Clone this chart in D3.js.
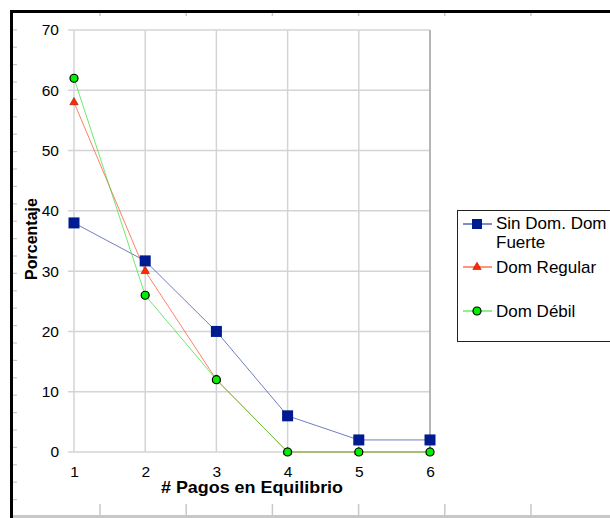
<!DOCTYPE html>
<html>
<head>
<meta charset="utf-8">
<script src="https://cdn.jsdelivr.net/npm/d3@7"></script>
<style>
  body { margin: 0; background: #fff; }
  svg { display: block; font-family: Arial, "Liberation Sans", sans-serif; }
</style>
</head>
<body>
<div id="chart"></div>
<script>
// data
const pagos = [1, 2, 3, 4, 5, 6];
const sinDomFuerte = [38, 31.7, 20, 6, 2, 2];
const domRegular = [58, 30, 12, 0, 0, 0];
const domDebil = [62, 26, 12, 0, 0, 0];
const yTicks = [0, 10, 20, 30, 40, 50, 60, 70];
const seriesNames = ["Sin Dom. Dom Fuerte", "Dom Regular", "Dom Débil"];

const width = 610, height = 518;
const svg = d3.select("#chart").append("svg")
    .attr("width", width)
    .attr("height", height);

// page frame (ruler-like marks around the picture)
const frame = svg.append("g");
frame.append("rect").attr("x", 10).attr("y", 10).attr("width", 3).attr("height", height - 10).attr("fill", "#000");
frame.append("rect").attr("x", 10).attr("y", 10).attr("width", width - 10).attr("height", 3).attr("fill", "#000");
frame.append("rect").attr("x", 13).attr("y", 515).attr("width", width - 13).attr("height", 3).attr("fill", "#c8c8c8");
d3.range(100, width, 86.2).forEach(x => {
    frame.append("line").attr("x1", x).attr("x2", x).attr("y1", 13).attr("y2", 16)
        .attr("stroke", "#c8c8c8").attr("stroke-width", 1.5);
    frame.append("line").attr("x1", x).attr("x2", x).attr("y1", 504).attr("y2", 515)
        .attr("stroke", "#c8c8c8").attr("stroke-width", 1.5);
});
d3.range(29.8, 512, 17.4).forEach(y => {
    frame.append("line").attr("x1", 13).attr("x2", 17).attr("y1", y).attr("y2", y)
        .attr("stroke", "#c8c8c8").attr("stroke-width", 1.2);
});

// scales
const x = d3.scaleLinear().domain([1, 6]).range([74, 430]);
const y = d3.scaleLinear().domain([0, 70]).range([452, 30]);

// grid
const grid = svg.append("g");
grid.selectAll(".hg").data(yTicks).enter().append("line")
    .attr("x1", x(1) - 6).attr("x2", x(6))
    .attr("y1", d => y(d)).attr("y2", d => y(d))
    .attr("stroke", "#d4d4d4").attr("stroke-width", 1.5);
grid.selectAll(".vg").data(pagos).enter().append("line")
    .attr("x1", d => x(d)).attr("x2", d => x(d))
    .attr("y1", y(70)).attr("y2", y(0))
    .attr("stroke", "#d4d4d4").attr("stroke-width", 1.5);
grid.append("line").attr("x1", x(6)).attr("x2", x(6)).attr("y1", y(70)).attr("y2", y(0))
    .attr("stroke", "#a8a8a8").attr("stroke-width", 1.5);

// axes
const yAxis = d3.axisLeft(y).tickValues(yTicks).tickSize(0).tickPadding(15);
svg.append("g").attr("transform", `translate(${x(1)},0)`).call(yAxis)
    .call(g => g.select(".domain").remove())
    .selectAll("text").attr("font-size", 15.5).attr("fill", "#000")
    .attr("font-family", "Arial, 'Liberation Sans', sans-serif");

const xAxis = d3.axisBottom(x).tickValues(pagos).tickFormat(d3.format("d")).tickSize(0).tickPadding(14);
svg.append("g").attr("transform", `translate(0,${y(0)})`).call(xAxis)
    .call(g => g.select(".domain").remove())
    .selectAll("text").attr("font-size", 15.5).attr("fill", "#000")
    .attr("font-family", "Arial, 'Liberation Sans', sans-serif");

svg.append("text").attr("x", 252).attr("y", 493).attr("text-anchor", "middle")
    .attr("font-size", 16.5).attr("font-weight", "bold")
    .attr("textLength", 182).attr("lengthAdjust", "spacingAndGlyphs")
    .text("# Pagos en Equilibrio");
svg.append("text").attr("transform", "translate(37,239) rotate(-90)").attr("text-anchor", "middle")
    .attr("font-size", 16).attr("font-weight", "bold").text("Porcentaje");

// series
const line = d3.line().x((d, i) => x(pagos[i])).y(d => y(d));

svg.append("path").datum(sinDomFuerte).attr("d", line)
    .attr("fill", "none").attr("stroke", "#3045a8").attr("stroke-width", 0.7);
svg.append("path").datum(domRegular).attr("d", line)
    .attr("fill", "none").attr("stroke", "#ff4a2a").attr("stroke-width", 0.7);
svg.append("path").datum(domDebil).attr("d", line)
    .attr("fill", "none").attr("stroke", "#33dd33").attr("stroke-width", 0.7);

svg.selectAll(".sq").data(sinDomFuerte).enter().append("rect")
    .attr("x", (d, i) => x(pagos[i]) - 5.5).attr("y", d => y(d) - 5.5)
    .attr("width", 11).attr("height", 11).attr("fill", "#001a8f");

const tri = d3.symbol().type(d3.symbolTriangle).size(30);
svg.selectAll(".tri").data(domRegular).enter().append("path")
    .attr("d", tri)
    .attr("transform", (d, i) => `translate(${x(pagos[i])},${y(d)})`)
    .attr("fill", "#ff2a00").attr("stroke", "#a01000").attr("stroke-width", 0.6);

svg.selectAll(".dot").data(domDebil).enter().append("circle")
    .attr("cx", (d, i) => x(pagos[i])).attr("cy", d => y(d)).attr("r", 4)
    .attr("fill", "#00ee00").attr("stroke", "#000").attr("stroke-width", 1.2);

// legend
const legend = svg.append("g");
legend.append("rect").attr("x", 457.5).attr("y", 210.5).attr("width", 170).attr("height", 131)
    .attr("fill", "#fff").attr("stroke", "#222").attr("stroke-width", 1);

const legY = [224, 267, 311];
const legColors = ["#001a8f", "#ff2a00", "#22dd22"];
legY.forEach((ly, i) => {
    legend.append("line").attr("x1", 463).attr("x2", 492).attr("y1", ly).attr("y2", ly)
        .attr("stroke", legColors[i]).attr("stroke-width", 1);
});
legend.append("rect").attr("x", 472).attr("y", 219).attr("width", 10).attr("height", 10).attr("fill", "#001a8f");
legend.append("path").attr("d", tri).attr("transform", `translate(477,${legY[1]})`)
    .attr("fill", "#ff2a00").attr("stroke", "#a01000").attr("stroke-width", 0.6);
legend.append("circle").attr("cx", 477).attr("cy", legY[2]).attr("r", 4)
    .attr("fill", "#00ee00").attr("stroke", "#000").attr("stroke-width", 1.2);

const legText = legend.append("g").attr("font-size", 17).attr("fill", "#000");
legText.append("text").attr("x", 496).attr("y", 229).text("Sin Dom. Dom");
legText.append("text").attr("x", 496).attr("y", 248).text("Fuerte");
legText.append("text").attr("x", 496).attr("y", 273).text(seriesNames[1]);
legText.append("text").attr("x", 496).attr("y", 317).text(seriesNames[2]);
</script>
</body>
</html>
